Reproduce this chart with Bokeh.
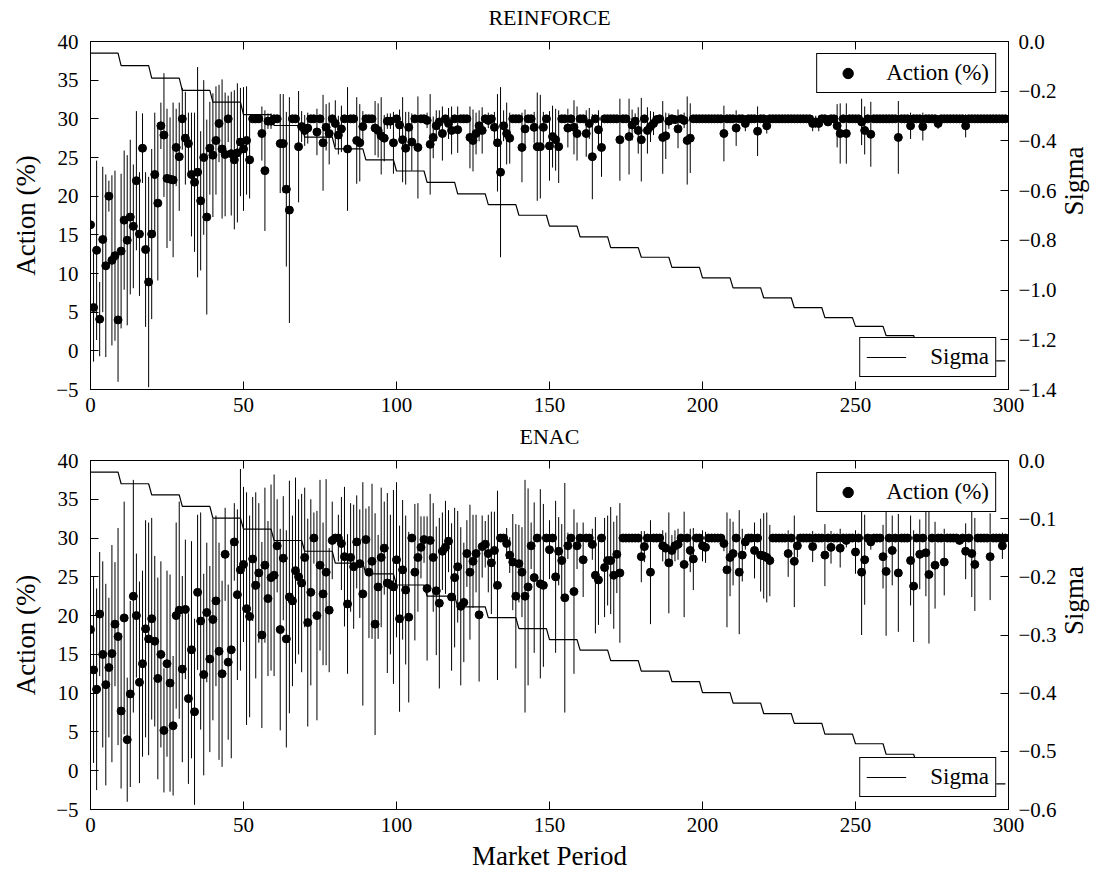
import math
import numpy as np
from bokeh.plotting import figure
from bokeh.models import (ColumnDataSource, Range1d, LinearAxis, FixedTicker,
                          CustomJSTickFormatter, Legend, LegendItem)
from bokeh.layouts import column
from bokeh.embed import file_html
from bokeh.resources import INLINE

FONT = "Liberation Serif"

X_TICKS = [0, 50, 100, 150, 200, 250, 300]
ACTION_TICKS = [-5, 0, 5, 10, 15, 20, 25, 30, 35, 40]
TOP_SIGMA_TICKS = [-1.4, -1.2, -1.0, -0.8, -0.6, -0.4, -0.2, 0.0]
BOT_SIGMA_TICKS = [-0.6, -0.5, -0.4, -0.3, -0.2, -0.1, 0.0]

# ---------------- REINFORCE ----------------
TOP_ACTION = [
    16.3, 5.6, 13.0, 4.1, 14.4, 11.0, 20.0, 11.7, 12.3, 4.0,
    12.9, 16.9, 14.3, 17.3, 16.1, 22.0, 15.1, 26.2, 13.1, 8.9,
    15.1, 22.8, 19.1, 29.1, 27.9, 22.3, 22.2, 22.1, 26.3, 25.1,
    30.0, 27.5, 26.8, 22.8, 21.8, 23.1, 19.4, 25.0, 17.3, 26.2,
    25.3, 27.2, 29.4, 26.1, 25.4, 30.0, 25.5, 24.7, 25.6, 27.0,
    26.1, 27.2, 24.7, 30.0, 30.0, 30.0, 28.1, 23.3, 29.7, 29.7,
    30.0, 30.0, 26.8, 26.8, 20.9, 18.2, 30.0, 30.0, 26.4, 29.0,
    28.5, 28.8, 30.0, 30.0, 28.3, 30.0, 26.9, 28.9, 28.1, 30.0,
    29.4, 27.9, 28.7, 30.0, 26.1, 30.0, 30.0, 27.2, 26.9, 29.0,
    30.0, 30.0, 30.0, 28.8, 28.5, 27.8, 27.5, 29.7, 29.7, 26.9,
    30.0, 29.2, 27.3, 26.2, 28.9, 27.0, 30.0, 26.3, 30.0, 30.0,
    29.8, 26.7, 27.6, 29.1, 29.6, 28.1, 30.0, 29.4, 28.5, 30.0,
    28.6, 30.0, 30.0, 30.0, 27.6, 27.2, 28.1, 29.1, 28.5, 30.0,
    29.8, 30.0, 28.9, 26.9, 23.1, 29.1, 28.1, 27.5, 30.0, 30.0,
    30.0, 26.3, 28.7, 30.0, 30.0, 28.9, 26.4, 26.4, 28.9, 30.0,
    26.5, 27.7, 27.3, 26.4, 30.0, 30.0, 28.8, 30.0, 28.9, 28.1,
    30.0, 30.0, 28.1, 29.4, 25.1, 30.0, 28.6, 26.3, 30.0, 30.0,
    30.0, 30.0, 30.0, 27.3, 30.0, 30.0, 27.7, 29.2, 29.7, 28.5,
    27.3, 30.0, 28.5, 29.0, 29.4, 29.9, 30.0, 27.6, 27.8, 29.7,
    30.0, 29.9, 28.7, 30.0, 29.8, 27.2, 27.5, 30.0, 30.0, 30.0,
    30.0, 30.0, 30.0, 30.0, 30.0, 30.0, 30.0, 28.1, 30.0, 30.0,
    30.0, 28.8, 30.0, 30.0, 29.4, 30.0, 30.0, 30.0, 28.4, 30.0,
    30.0, 29.1, 30.0, 30.0, 30.0, 30.0, 30.0, 30.0, 30.0, 30.0,
    30.0, 30.0, 30.0, 30.0, 30.0, 30.0, 29.4, 29.6, 29.4, 30.0,
    30.0, 29.6, 30.0, 30.0, 29.1, 28.1, 30.0, 28.1, 30.0, 30.0,
    30.0, 30.0, 29.6, 28.5, 30.0, 28.0, 30.0, 30.0, 30.0, 30.0,
    30.0, 30.0, 30.0, 30.0, 27.6, 30.0, 30.0, 30.0, 29.1, 30.0,
    30.0, 30.0, 29.0, 30.0, 30.0, 30.0, 30.0, 29.4, 30.0, 30.0,
    30.0, 30.0, 30.0, 30.0, 30.0, 30.0, 29.1, 30.0, 30.0, 30.0,
    30.0, 30.0, 30.0, 30.0, 30.0, 30.0, 30.0, 30.0, 30.0, 30.0,
]
TOP_ERR = [
    8.5, 7.0, 11.6, 4.8, 9.4, 11.8, 2.0, 11.0, 11.0, 8.0,
    10.0, 9.0, 11.0, 10.0, 8.0, 9.0, 8.0, 4.5, 10.0, 13.6,
    11.0, 8.0, 10.0, 3.0, 8.0, 9.0, 8.0, 10.0, 5.0, 7.0,
    4.0, 6.0, 4.0, 8.0, 9.0, 13.6, 9.0, 10.0, 12.6, 6.0,
    8.0, 7.0, 5.0, 9.0, 8.0, 3.0, 8.0, 9.0, 9.0, 7.0,
    8.0, 7.0, 5.0, 0.0, 0.0, 0.0, 3.5, 7.8, 1.0, 1.0,
    0.0, 0.0, 6.4, 6.4, 10.0, 14.6, 0.0, 0.0, 7.2, 2.0,
    2.0, 2.0, 0.0, 0.0, 3.0, 0.0, 6.2, 3.0, 4.0, 0.0,
    3.0, 2.5, 3.0, 0.0, 8.0, 0.0, 0.0, 5.6, 5.0, 2.0,
    0.0, 0.0, 0.0, 3.5, 3.5, 5.0, 3.0, 1.0, 1.0, 4.0,
    0.0, 2.0, 5.5, 4.7, 2.0, 3.7, 0.0, 6.6, 0.0, 0.0,
    1.0, 6.5, 2.7, 2.0, 1.5, 3.5, 0.0, 2.0, 3.1, 0.0,
    3.0, 0.0, 0.0, 0.0, 4.0, 4.0, 2.7, 2.0, 3.0, 0.0,
    1.0, 0.0, 2.0, 6.3, 11.0, 2.0, 4.0, 3.3, 0.0, 0.0,
    0.0, 4.5, 2.5, 0.0, 0.0, 2.0, 7.0, 6.7, 2.0, 0.0,
    4.5, 4.0, 4.0, 4.7, 0.0, 0.0, 2.5, 0.0, 3.5, 3.5,
    0.0, 0.0, 3.0, 2.0, 5.5, 0.0, 2.5, 3.8, 0.0, 0.0,
    0.0, 0.0, 0.0, 5.3, 0.0, 0.0, 4.9, 2.0, 1.0, 3.0,
    5.4, 0.0, 3.0, 2.0, 1.5, 0.5, 0.0, 4.7, 3.0, 1.0,
    0.0, 0.5, 2.5, 0.0, 1.0, 5.7, 4.5, 0.0, 0.0, 0.0,
    0.0, 0.0, 0.0, 0.0, 0.0, 0.0, 0.0, 3.6, 0.0, 0.0,
    0.0, 2.3, 0.0, 0.0, 1.0, 0.0, 0.0, 0.0, 3.2, 0.0,
    0.0, 1.0, 0.0, 0.0, 0.0, 0.0, 0.0, 0.0, 0.0, 0.0,
    0.0, 0.0, 0.0, 0.0, 0.0, 0.0, 1.0, 0.8, 1.0, 0.0,
    0.0, 0.5, 0.0, 0.0, 2.8, 3.9, 0.0, 3.9, 0.0, 0.0,
    0.0, 0.0, 3.0, 3.1, 0.0, 4.2, 0.0, 0.0, 0.0, 0.0,
    0.0, 0.0, 0.0, 0.0, 4.7, 0.0, 0.0, 0.0, 1.7, 0.0,
    0.0, 0.0, 1.8, 0.0, 0.0, 0.0, 0.0, 0.7, 0.0, 0.0,
    0.0, 0.0, 0.0, 0.0, 0.0, 0.0, 1.5, 0.0, 0.0, 0.0,
    0.0, 0.0, 0.0, 0.0, 0.0, 0.0, 0.0, 0.0, 0.0, 0.0,
]
# sigma value held for each block of 10 market periods
TOP_SIGMA = [-0.047, -0.097, -0.147, -0.197, -0.244, -0.294, -0.338, -0.385,
             -0.432, -0.476, -0.521, -0.567, -0.613, -0.656, -0.699, -0.743,
             -0.786, -0.829, -0.868, -0.909, -0.951, -0.991, -1.031, -1.071,
             -1.111, -1.146, -1.183, -1.218, -1.252, -1.285]

# ---------------- ENAC ----------------
BOT_ACTION = [
    18.2, 13.0, 10.5, 20.2, 15.0, 11.1, 13.3, 15.1, 18.9, 17.3,
    7.7, 19.7, 4.0, 9.9, 22.5, 20.0, 11.4, 13.8, 18.3, 17.0,
    19.6, 16.7, 11.9, 15.0, 5.2, 13.8, 11.3, 5.8, 20.0, 20.7,
    13.1, 20.8, 9.3, 15.6, 7.6, 23.0, 19.3, 12.4, 20.4, 14.4,
    19.5, 21.9, 15.4, 12.5, 27.9, 14.0, 15.6, 29.5, 22.7, 25.9,
    26.6, 20.9, 19.9, 27.3, 23.9, 25.5, 17.5, 26.5, 22.2, 24.9,
    25.2, 29.0, 18.2, 27.4, 17.0, 22.4, 21.9, 25.8, 25.0, 24.2,
    27.5, 19.1, 23.0, 30.0, 20.0, 26.5, 22.8, 25.6, 20.7, 29.7,
    30.0, 30.0, 29.3, 27.6, 21.5, 27.5, 26.3, 29.5, 26.7, 22.8,
    29.8, 25.6, 27.0, 18.9, 23.7, 27.5, 28.7, 24.2, 24.0, 23.7,
    27.2, 19.6, 25.9, 23.3, 19.8, 30.0, 25.6, 27.5, 28.8, 29.8,
    23.5, 29.7, 27.5, 23.2, 21.6, 28.3, 28.8, 29.6, 22.4, 24.9,
    26.3, 21.2, 21.7, 28.0, 25.6, 27.0, 28.0, 20.1, 28.9, 29.2,
    28.0, 26.8, 28.4, 23.9, 30.0, 30.0, 29.3, 27.8, 26.9, 22.5,
    26.7, 25.6, 22.5, 23.7, 29.0, 24.9, 30.0, 24.1, 23.9, 30.0,
    28.5, 30.0, 25.0, 28.3, 27.1, 22.3, 29.0, 30.0, 23.1, 29.0,
    30.0, 27.2, 30.0, 30.0, 29.2, 25.2, 24.6, 30.0, 26.2, 27.1,
    27.1, 25.2, 27.9, 25.5, 30.0, 30.0, 30.0, 30.0, 30.0, 30.0,
    27.6, 28.9, 30.0, 25.6, 30.0, 30.0, 30.0, 29.0, 28.7, 26.8,
    28.4, 29.0, 29.2, 30.0, 26.6, 30.0, 28.4, 27.3, 30.0, 30.0,
    29.0, 28.8, 30.0, 30.0, 30.0, 30.0, 30.0, 29.3, 25.9, 27.5,
    28.0, 30.0, 25.6, 27.8, 29.5, 30.0, 30.0, 28.4, 30.0, 27.8,
    27.7, 27.5, 27.1, 30.0, 30.0, 30.0, 30.0, 30.0, 28.0, 30.0,
    27.0, 29.0, 30.0, 30.0, 30.0, 30.0, 28.9, 30.0, 30.0, 30.0,
    27.8, 30.0, 28.8, 30.0, 30.0, 28.7, 30.0, 29.7, 30.0, 30.0,
    28.2, 30.0, 25.6, 27.2, 30.0, 29.5, 30.0, 30.0, 30.0, 27.6,
    25.7, 30.0, 28.4, 30.0, 25.5, 30.0, 30.0, 30.0, 27.1, 23.8,
    30.0, 27.9, 30.0, 28.1, 25.3, 30.0, 26.5, 30.0, 30.0, 26.9,
    30.0, 30.0, 30.0, 30.0, 29.7, 30.0, 28.3, 30.0, 28.0, 26.6,
    30.0, 30.0, 30.0, 30.0, 27.6, 30.0, 30.0, 30.0, 29.0, 30.0,
]
BOT_ERR = [
    7.0, 12.0, 13.0, 8.0, 12.0, 13.0, 9.0, 14.0, 8.0, 14.0,
    10.0, 15.0, 8.0, 12.0, 15.0, 8.0, 13.0, 12.0, 14.0, 15.0,
    13.0, 11.0, 13.0, 12.0, 8.0, 12.0, 14.0, 9.0, 12.0, 14.0,
    12.0, 9.0, 11.0, 14.0, 12.0, 10.0, 14.0, 13.0, 9.0, 12.0,
    13.0, 11.0, 14.0, 12.0, 6.0, 10.0, 14.0, 5.0, 11.0, 13.0,
    10.0, 15.0, 13.0, 8.0, 12.0, 9.0, 12.0, 10.0, 10.0, 12.0,
    13.0, 6.0, 13.0, 8.0, 14.0, 15.0, 11.0, 12.0, 10.0, 11.5,
    9.0, 13.4, 12.0, 3.3, 13.5, 11.0, 9.2, 12.0, 8.0, 5.0,
    0.0, 3.0, 6.0, 9.0, 9.0, 7.0, 8.0, 6.0, 7.0, 14.4,
    4.0, 8.5, 10.0, 14.3, 6.7, 9.0, 6.0, 11.6, 9.0, 12.5,
    10.0, 12.0, 9.0, 9.6, 11.0, 0.0, 8.8, 7.0, 4.0, 3.0,
    9.3, 6.0, 7.0, 8.3, 11.0, 5.0, 6.0, 4.0, 9.5, 9.0,
    7.2, 10.2, 7.7, 4.3, 8.7, 6.0, 5.0, 8.6, 4.0, 3.0,
    5.0, 6.6, 5.0, 12.2, 0.0, 0.0, 2.0, 2.3, 6.2, 9.3,
    5.0, 5.8, 15.0, 12.7, 3.0, 9.7, 0.0, 12.2, 10.5, 0.0,
    3.8, 0.0, 9.8, 4.4, 4.7, 14.8, 1.7, 0.0, 10.6, 3.0,
    0.0, 4.8, 0.0, 0.0, 2.0, 7.5, 5.8, 0.0, 6.4, 5.8,
    6.9, 6.9, 5.0, 9.0, 0.0, 0.0, 0.0, 0.0, 0.0, 0.0,
    3.3, 2.0, 0.0, 6.7, 0.0, 0.0, 0.0, 2.0, 2.0, 6.5,
    2.0, 2.0, 2.0, 0.0, 6.8, 0.0, 2.8, 4.0, 0.0, 0.0,
    2.0, 2.0, 0.0, 0.0, 0.0, 0.0, 0.0, 1.0, 7.4, 5.0,
    4.1, 0.0, 8.0, 3.4, 1.0, 0.0, 0.0, 3.6, 0.0, 4.7,
    5.5, 5.8, 4.6, 0.0, 0.0, 0.0, 0.0, 0.0, 3.0, 0.0,
    5.9, 1.5, 0.0, 0.0, 0.0, 0.0, 2.0, 0.0, 0.0, 0.0,
    4.0, 0.0, 2.1, 0.0, 0.0, 2.5, 0.0, 0.9, 0.0, 0.0,
    2.8, 0.0, 8.1, 5.8, 0.0, 1.0, 0.0, 0.0, 0.0, 4.1,
    8.3, 0.0, 4.5, 0.0, 7.6, 0.0, 0.0, 0.0, 5.8, 7.2,
    0.0, 4.5, 0.0, 5.6, 8.9, 0.0, 5.6, 0.0, 0.0, 4.3,
    0.0, 0.0, 0.0, 0.0, 0.5, 0.0, 3.6, 0.0, 5.6, 6.0,
    0.0, 0.0, 0.0, 0.0, 5.6, 0.0, 0.0, 0.0, 1.7, 0.0,
]
BOT_SIGMA = [-0.020, -0.040, -0.059, -0.079, -0.099, -0.118, -0.1375, -0.156,
             -0.1765, -0.195, -0.214, -0.233, -0.2515, -0.270, -0.289, -0.308,
             -0.326, -0.344, -0.362, -0.380, -0.399, -0.417, -0.435, -0.452,
             -0.4705, -0.487, -0.505, -0.522, -0.539, -0.556]

MINUS_INT = CustomJSTickFormatter(code="return tick.toFixed(0).replace('-', '\u2212');")


def style_axis(ax, ticker, label_size="21px"):
    ax.ticker = ticker
    ax.major_tick_in = 8
    ax.major_tick_out = 0
    ax.minor_tick_line_color = None
    ax.axis_line_color = "black"
    ax.major_tick_line_color = "black"
    ax.major_label_text_font = FONT
    ax.major_label_text_font_size = label_size
    ax.major_label_text_color = "black"
    ax.axis_label_text_font = FONT
    ax.axis_label_text_font_style = "normal"
    ax.axis_label_text_font_size = "27px"
    ax.axis_label_text_color = "black"


def make_panel(title, actions, errs, sigma_steps, sig_min, sig_ticks,
               frame_h, border_top, border_bottom, xlabel=None):
    periods = np.arange(len(actions))
    a = np.array(actions, dtype=float)
    e = np.array(errs, dtype=float)
    sigma = np.repeat(np.array(sigma_steps, dtype=float), 10)

    p = figure(frame_width=918, frame_height=frame_h, title=None,
               x_range=Range1d(0, 300), y_range=Range1d(-5, 40),
               output_backend="svg", toolbar_location=None,
               min_border_left=90, min_border_right=99,
               min_border_top=border_top, min_border_bottom=border_bottom,
               background_fill_color="white", border_fill_color="white")
    p.grid.visible = False
    p.outline_line_color = "black"
    p.outline_line_alpha = 1.0

    style_axis(p.xaxis[0], FixedTicker(ticks=X_TICKS))
    p.xaxis[0].major_label_standoff = 8
    if xlabel:
        p.xaxis[0].axis_label = xlabel
        p.xaxis[0].axis_label_standoff = 6
    style_axis(p.yaxis[0], FixedTicker(ticks=ACTION_TICKS))
    p.yaxis[0].formatter = MINUS_INT
    p.yaxis[0].axis_label = "Action (%)"
    p.yaxis[0].major_label_standoff = 12
    p.yaxis[0].axis_label_standoff = 12

    # top edge: tick marks without labels; the panel title is this axis' label
    top_ax = LinearAxis(axis_label=title)
    style_axis(top_ax, FixedTicker(ticks=X_TICKS), label_size="1px")
    top_ax.major_label_text_color = None
    top_ax.major_label_standoff = 0
    top_ax.axis_label_text_font_size = "22px"
    top_ax.axis_label_standoff = 12
    p.add_layout(top_ax, "above")

    p.extra_y_ranges = {"sigma": Range1d(sig_min, 0.0)}
    r_ax = LinearAxis(y_range_name="sigma", axis_label="Sigma")
    style_axis(r_ax, FixedTicker(ticks=sig_ticks))
    r_ax.formatter = CustomJSTickFormatter(
        code="return tick.toFixed(1).replace('-', '\u2212');")
    r_ax.major_label_standoff = 10
    r_ax.axis_label_standoff = 14
    try:
        r_ax.axis_label_orientation = math.pi / 2
    except Exception:
        pass
    p.add_layout(r_ax, "right")

    src = ColumnDataSource(dict(x=periods, y=a, lo=a - e, hi=a + e))
    p.segment(x0="x", y0="lo", x1="x", y1="hi", source=src,
              line_color="black", line_width=1)
    pts = p.scatter("x", "y", source=src, size=8, marker="circle",
                    fill_color="black", line_color="black")
    sig_line = p.line(periods, sigma, y_range_name="sigma",
                      line_color="black", line_width=1.2)

    leg_kw = dict(border_line_color="black", border_line_width=1,
                  border_line_alpha=1.0, background_fill_color="white",
                  background_fill_alpha=1.0, label_text_font=FONT,
                  label_text_font_size="23px", label_text_color="black",
                  padding=6, spacing=0, margin=12, label_height=26,
                  glyph_height=26)
    leg1 = Legend(items=[LegendItem(label="Action (%)", renderers=[pts])],
                  location="top_right", glyph_width=49, label_standoff=14,
                  **leg_kw)
    leg2 = Legend(items=[LegendItem(label="Sigma", renderers=[sig_line])],
                  location="bottom_right", glyph_width=40, label_standoff=24,
                  **leg_kw)
    p.add_layout(leg1)
    p.add_layout(leg2)
    return p


p1 = make_panel("REINFORCE", TOP_ACTION, TOP_ERR, TOP_SIGMA, -1.4,
                TOP_SIGMA_TICKS, 348, 41, 30)
p2 = make_panel("ENAC", BOT_ACTION, BOT_ERR, BOT_SIGMA, -0.6,
                BOT_SIGMA_TICKS, 349, 41, 65, xlabel="Market Period")

layout = column(p1, p2, spacing=0)
open("out.html", "w").write(file_html(layout, INLINE))
